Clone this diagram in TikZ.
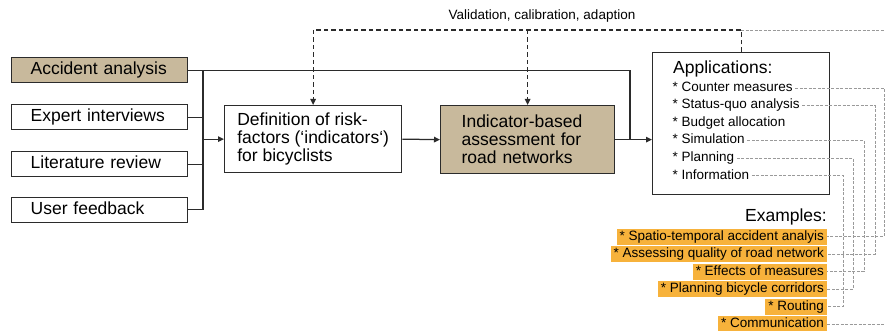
\documentclass[tikz,border=0pt]{standalone}
\usepackage{fontspec}
\setmainfont{Liberation Sans}
\usetikzlibrary{arrows.meta}
\definecolor{tanbox}{HTML}{C8B99C}
\definecolor{orng}{HTML}{F7B23B}
\definecolor{edgec}{HTML}{2B2B2B}
\definecolor{dgray}{HTML}{9A9A9A}
\begin{document}
\begin{tikzpicture}[x=1pt,y=-1pt,
  big/.style={font=\fontsize{17.5}{18}\selectfont},
  small/.style={font=\fontsize{13.5}{15}\selectfont},
  inbox/.style={draw=edgec, line width=1.3pt, big, minimum height=25, inner ysep=0pt,
    text width=138pt, inner xsep=19pt, align=left, anchor=north west, text height=12.5pt, text depth=3.5pt},
  procbox/.style={draw=edgec, line width=1.3pt, big, inner ysep=0pt, align=left, anchor=north west},
  item/.style={small, anchor=west, inner xsep=2.5pt, inner ysep=0pt, text height=10pt, text depth=3pt},
  exbox/.style={small, fill=orng, anchor=east, inner xsep=3pt, inner ysep=0pt, minimum height=16pt,
    text height=10pt, text depth=3pt},
  ln/.style={draw=edgec, line width=1.25pt},
  arr/.style={-{Triangle[length=6pt,width=5.5pt]}},
  vdash/.style={draw=edgec, line width=1.2pt, dash pattern=on 4.5pt off 3pt},
  gdash/.style={draw=dgray, line width=0.8pt, dash pattern=on 3pt off 1.5pt}
]
\useasboundingbox (0,0) rectangle (885,331);

% input boxes
\node[inbox, fill=tanbox] (acc) at (11,57) {Accident analysis};
\node[inbox] (exp) at (11,104) {Expert interviews};
\node[inbox] (lit) at (11,151) {Literature review};
\node[inbox] (usr) at (11,196.5) {User feedback};

% process boxes
\node[procbox, minimum width=177pt, minimum height=67pt] (def) at (224,105)
  {Definition of risk-\\factors (‘indicators‘)\\for bicyclists};
\node[procbox, fill=tanbox, text width=132pt, inner xsep=21pt, minimum height=68pt] (ind) at (440,105)
  {Indicator-based\\assessment for\\road networks};

% applications
\node[draw=edgec, line width=1.3pt, minimum width=177pt, minimum height=142pt, anchor=north west, inner sep=0pt] (app) at (652,52) {};
\node[big, anchor=west, inner sep=0pt] (apptitle) at (673,68.5) {Applications:};
\node[item] (a1) at (670,88) {* Counter measures};
\node[item] (a2) at (670,105.5) {* Status-quo analysis};
\node[item] (a3) at (670,123) {* Budget allocation};
\node[item] (a4) at (670,140.5) {* Simulation};
\node[item] (a5) at (670,158) {* Planning};
\node[item] (a6) at (670,175.5) {* Information};

% examples
\node[big, anchor=east, inner sep=0pt] (extitle) at (827,217) {Examples:};
\node[exbox] (e1) at (827,236.5) {* Spatio-temporal accident analyis};
\node[exbox] (e2) at (827,254) {* Assessing quality of road network};
\node[exbox] (e3) at (827,271.5) {* Effects of measures};
\node[exbox] (e4) at (827,289) {* Planning bicycle corridors};
\node[exbox] (e5) at (827,306.5) {* Routing};
\node[exbox] (e6) at (827,324) {* Communication};

% label
\node[small, inner sep=0pt] (vlabel) at (542,16.5) {Validation, calibration, adaption};

% helper coordinates
\coordinate (busx) at (203,0);
\coordinate (mergex) at (630,0);
\coordinate (vtop) at (0,30);
\coordinate (redge) at (885,0);
\coordinate (g1) at (884,0);
\coordinate (g2) at (875,0);
\coordinate (g3) at (864,0);
\coordinate (g4) at (853,0);
\coordinate (g5) at (843,0);

% solid connectors
\draw[ln] (busx |- acc.east) -- (busx |- usr.east);
\draw[ln] (exp.east) -- (busx |- exp.east);
\draw[ln] (lit.east) -- (busx |- lit.east);
\draw[ln] (usr.east) -- (busx |- usr.east);
\draw[ln, arr] (busx |- def.west) -- (def.west);
\draw[ln, arr] (def.east) -- (ind.west);
\draw[ln] (acc.east) -| (mergex |- ind.east);
\draw[ln, arr] (ind.east) -- (app.west |- ind.east);

% validation loop
\draw[vdash, arr] (app.north) |- (def.north |- vtop) -- (def.north);
\draw[vdash, arr] (ind.north |- vtop) -- (ind.north);
\draw[gdash] (app.north |- vtop) -- (redge |- vtop);

% grey links
\draw[gdash] (a1.east) -| (g1 |- e1.east) -- (e1.east);
\draw[gdash] (a2.east) -| (g2 |- e2.east) -- (e2.east);
\draw[gdash] (a4.east) -| (g3 |- e3.east) -- (e3.east);
\draw[gdash] (a5.east) -| (g4 |- e4.east) -- (e4.east);
\draw[gdash] (a6.east) -| (g5 |- e5.east) -- (e5.east);
\draw[gdash] (e6.east) -- (redge |- e6.east);
\end{tikzpicture}
\end{document}
